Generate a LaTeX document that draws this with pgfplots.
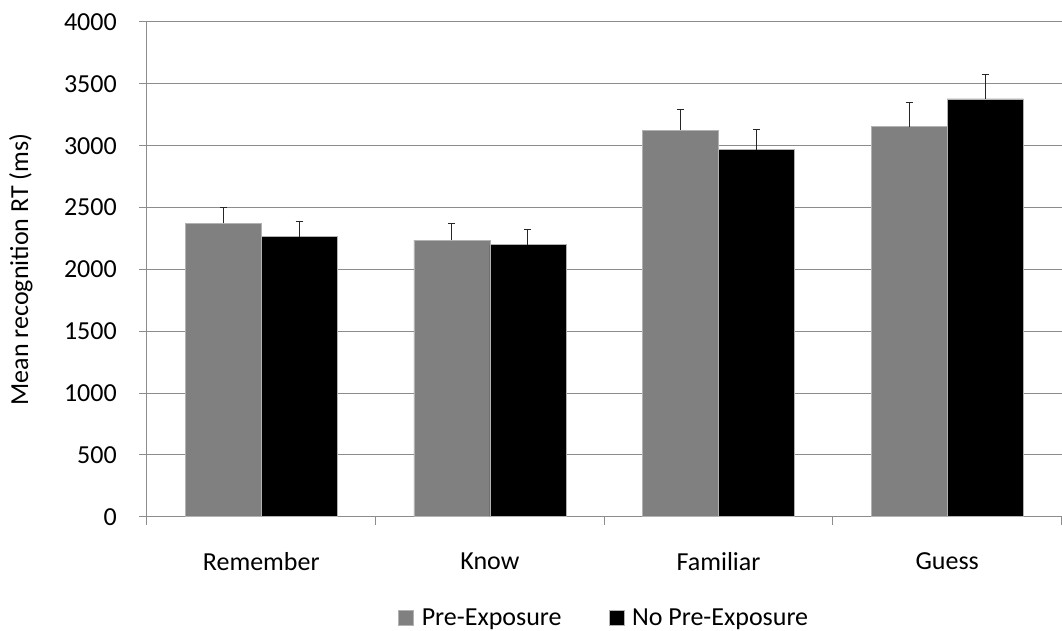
\documentclass[border=0pt]{standalone}
\usepackage{fontspec}
\setmainfont{Carlito}
\usepackage{pgfplots}
\pgfplotsset{compat=1.18}
\definecolor{barG}{RGB}{128,128,128}
\definecolor{gridG}{RGB}{140,140,140}
\begin{document}
\begin{tikzpicture}[font=\fontsize{26bp}{31bp}\selectfont]
\begin{axis}[
  scale only axis,
  width=915bp, height=495bp,
  ybar=0pt, bar width=76bp,
  xmin=0.5, xmax=4.5, ymin=0, ymax=4000,
  ytick={0,500,...,4000},
  xtick={1,2,3,4},
  xticklabels={Remember,Know,Familiar,Guess},
  minor xtick={0.5,1.5,2.5,3.5,4.5},
  major x tick style={draw=none},
  minor x tick style={draw=gridG, line width=1bp},
  major y tick style={draw=gridG, line width=1bp},
  tick align=outside,
  major tick length=8bp, minor tick length=8bp,
  axis x line*=bottom, axis y line*=left,
  x axis line style={-, draw=gridG, line width=1bp},
  y axis line style={-, draw=gridG, line width=1bp},
  ymajorgrids, major grid style={draw=gridG, line width=1bp},
  /pgf/number format/assume math mode=true,
  /pgf/number format/set thousands separator={},
  yticklabel style={anchor=east, inner sep=0pt, xshift=-22bp},
  xticklabel style={anchor=north, inner sep=0pt, yshift=-28bp},
  ylabel={Mean recognition RT (ms)},
  ylabel style={at={(axis description cs:-0.1247,0.5)}, anchor=south, rotate=0, inner sep=0pt},
  legend columns=2,
  legend style={draw=none, at={(axis description cs:0.5,-0.204)}, anchor=center,
    /tikz/every even column/.append style={column sep=45bp}},
  legend image code/.code={\fill[#1] (0bp,-7.5bp) rectangle (15bp,7.5bp); \path (21bp,0bp);},
  error bars/error bar style={line width=1bp, draw=black!85},
  error bars/error mark options={rotate=90, mark size=3.5bp, line width=1bp, draw=black!85},
]
\addplot[fill=barG, draw=gray!60, line width=0.5bp,
  error bars/.cd, y dir=plus, y explicit]
  coordinates {(1,2373) +- (0,127) (2,2237) +- (0,133) (3,3125) +- (0,166) (4,3154) +- (0,194)};
\addlegendentry{Pre-Exposure}
\addplot[fill=black, draw=gray!60, line width=0.5bp,
  error bars/.cd, y dir=plus, y explicit]
  coordinates {(1,2264) +- (0,122) (2,2201) +- (0,120) (3,2968) +- (0,165) (4,3378) +- (0,194)};
\addlegendentry{No Pre-Exposure}
\end{axis}
\path ([xshift=-147bp,yshift=-114bp]current axis.south west) rectangle ([yshift=22bp]current axis.north east);
\end{tikzpicture}
\end{document}
